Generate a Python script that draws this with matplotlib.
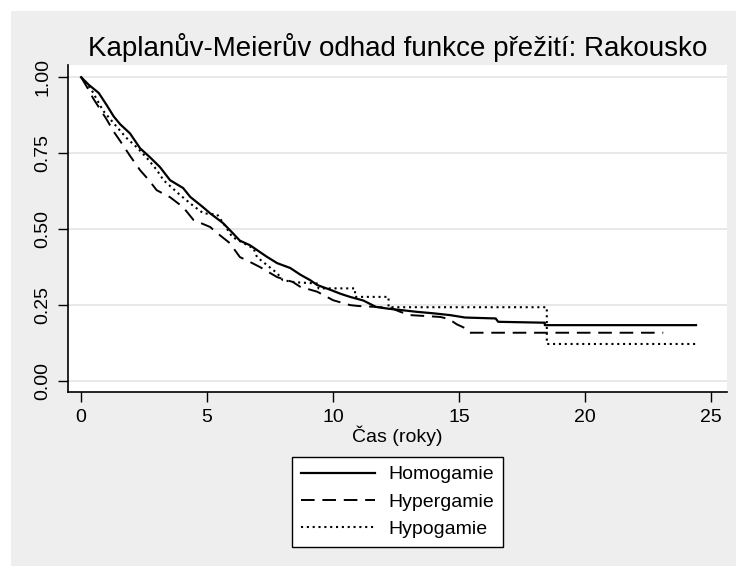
import matplotlib
matplotlib.use('Agg')
import matplotlib.pyplot as plt
from matplotlib.patches import Rectangle

plt.rcParams['font.family'] = ['Liberation Sans', 'DejaVu Sans']

# Kaplan-Meier curves (time in years, survival),
# dense early part traced as a line, visible late steps given by their corners
homo_t = [0, 0.3, 0.7, 1.0, 1.3, 1.55, 1.94, 2.34, 2.75, 3.13, 3.53, 4.05, 4.33, 4.84, 5.12,
          5.63, 5.9, 6.3, 6.7, 7.0, 7.37, 7.78, 8.3, 8.7, 9.09, 9.37, 9.9, 10.3, 10.67,
          11.2, 11.7, 12.2, 12.66, 13.3, 13.97, 14.64, 15.24, 16.45, 16.55, 18.4, 18.4,
          24.4]
homo_s = [1.0, 0.975, 0.948, 0.91, 0.87, 0.845, 0.815, 0.766, 0.735, 0.704, 0.661, 0.635,
          0.606, 0.572, 0.552, 0.52, 0.497, 0.462, 0.447, 0.43, 0.409, 0.388, 0.372, 0.35,
          0.332, 0.316, 0.30, 0.287, 0.277, 0.265, 0.244, 0.238, 0.234, 0.228, 0.223, 0.217,
          0.209, 0.206, 0.195, 0.192, 0.184, 0.184]

hyper_t = [0, 0.25, 0.48, 0.75, 1.02, 1.3, 1.55, 1.95, 2.34, 2.7, 3.0, 3.53, 4.05, 4.46,
           5.12, 5.4, 5.9, 6.3, 6.7, 7.1, 7.78, 8.4, 8.7, 9.37, 10.0, 10.67, 11.0, 11.7,
           12.3, 12.66, 13.06, 14.25, 14.6, 14.9, 15.24, 15.4, 23.1]
hyper_s = [1.0, 0.965, 0.93, 0.895, 0.86, 0.82, 0.79, 0.74, 0.694, 0.66, 0.628, 0.605,
           0.572, 0.53, 0.507, 0.487, 0.454, 0.408, 0.392, 0.375, 0.342, 0.326, 0.31,
           0.294, 0.266, 0.25, 0.247, 0.244, 0.24, 0.228, 0.217, 0.211, 0.204, 0.187,
           0.174, 0.159, 0.159]

hypo_t = [0, 0.4, 0.87, 1.42, 1.8, 2.2, 2.6, 3.0, 3.27, 3.93, 4.4, 4.85, 5.4, 5.64, 6.0,
          6.6, 6.84, 6.98, 7.4, 7.78, 8.0, 8.5, 9.4, 9.42, 10.87, 10.87, 12.2, 12.2,
          18.48, 18.48, 24.4]
hypo_s = [1.0, 0.96, 0.89, 0.836, 0.80, 0.77, 0.735, 0.695, 0.661, 0.612, 0.58, 0.552,
          0.548, 0.52, 0.474, 0.447, 0.437, 0.408, 0.38, 0.355, 0.332, 0.325, 0.321,
          0.305, 0.305, 0.277, 0.277, 0.243, 0.243, 0.122, 0.122]

labels = ['Homogamie', 'Hypergamie', 'Hypogamie']
x_ticks = [0, 5, 10, 15, 20, 25]
y_ticks = [0.0, 0.25, 0.5, 0.75, 1.0]

W, H = 736, 566
fig = plt.figure(figsize=(W / 100, H / 100), dpi=100, facecolor='white')
fig.patches.append(Rectangle((11 / W, 0), 1 - 11 / W, 1 - 11 / H,
                             transform=fig.transFigure, facecolor='#eeeeee',
                             edgecolor='none', zorder=-10))

ax = fig.add_axes([68 / W, 1 - 392 / H, 659 / W, 327 / H])
ax.set_facecolor('white')

ax.plot(homo_t, homo_s, color='black', lw=1.6, label=labels[0])
ax.plot(hyper_t, hyper_s, color='black', lw=1.4, dashes=(7, 4), label=labels[1])
ax.plot(hypo_t, hypo_s, color='black', lw=1.5, dashes=(1, 1.8), label=labels[2])

ax.set_xlim(-0.52, 25.63)
ax.set_ylim(-0.036, 1.04)
ax.set_xticks(x_ticks)
ax.set_yticks(y_ticks)
ax.set_yticklabels(['%.2f' % v for v in y_ticks], rotation=90, va='center')
ax.tick_params(axis='both', direction='out', length=7, width=1, labelsize=14,
               color='black')
ax.tick_params(axis='x', pad=5)
ax.tick_params(axis='y', pad=5)
ax.grid(axis='y', color='#e4e4e4', lw=1.2)
ax.set_axisbelow(True)
for side in ['top', 'right']:
    ax.spines[side].set_visible(False)
for side in ['left', 'bottom']:
    ax.spines[side].set_linewidth(1.2)

ax.set_xlabel('Čas (roky)', fontsize=14, labelpad=0)

fig.text(397.5 / W, 1 - 47 / H, 'Kaplanův-Meierův odhad funkce přežití: Rakousko',
         ha='center', va='center', fontsize=20)

leg = fig.legend(loc='center', bbox_to_anchor=(397.5 / W, 1 - 502 / H), ncol=1,
                 fontsize=14, frameon=True, fancybox=False, handlelength=3.8,
                 handletextpad=0.7, labelspacing=0.5, borderpad=0.45, framealpha=1)
leg.get_frame().set_edgecolor('black')
leg.get_frame().set_facecolor('white')
leg.get_frame().set_linewidth(1.0)

fig.savefig('out.png', dpi=100, facecolor=fig.get_facecolor())
